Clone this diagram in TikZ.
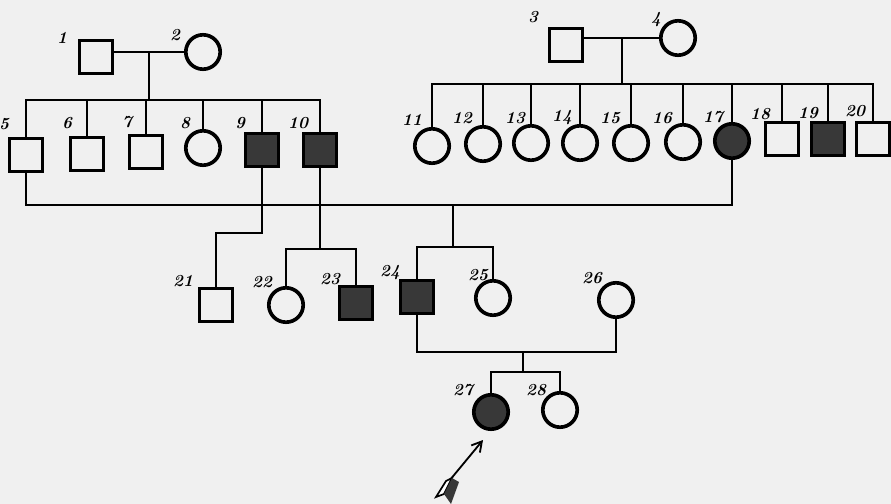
\documentclass[tikz,border=0pt]{standalone}
\usepackage{tikz}
\usetikzlibrary{arrows.meta,calc}
\tikzset{>=latex}
\tikzset{
  male/.style={draw, line width=2.6pt, minimum size=0.82cm, inner sep=0pt},
  female/.style={draw, circle, line width=2.6pt, minimum size=0.86cm, inner sep=0pt},
  ill/.style={fill=black!78},
  num/.style={font=\large\bfseries\itshape, inner sep=0pt},
  link/.style={line width=1.9pt}
}

\begin{document}
\begin{tikzpicture}[x=0.025cm, y=-0.025cm]
		\fill[black!6] (0,0) rectangle (891,504);
		\useasboundingbox (0,0) rectangle (891,504);
		
		% generation I
		\node[male] (p1) at (96,57) {};
		\node[female] (p2) at (203,52) {};
		\node[male] (p3) at (566,45) {};
		\node[female] (p4) at (678,38) {};
		
		% generation II
		\foreach \i/\x/\y in {5/26/155, 6/87/154, 7/146/152, 18/782/139, 20/873/139}
		{
			\node[male] (p\i) at (\x,\y) {};
		}
		\foreach \i/\x/\y in {8/203/148, 11/432/146, 12/483/144, 13/531/143, 14/580/143, 15/631/143, 16/683/142}
		{
			\node[female] (p\i) at (\x,\y) {};
		}
		\node[male,ill] (p9) at (262,150) {};
		\node[male,ill] (p10) at (320,150) {};
		\node[male,ill] (p19) at (828,139) {};
		\node[female,ill] (p17) at (732,141) {};
		
		% generation III and IV
		\node[male] (p21) at (216,305) {};
		\node[female] (p22) at (286,305) {};
		\node[male,ill] (p23) at (356,303) {};
		\node[male,ill] (p24) at (417,297) {};
		\node[female] (p25) at (493,298) {};
		\node[female] (p26) at (616,300) {};
		\node[female,ill] (p27) at (491,412) {};
		\node[female] (p28) at (560,410) {};
		
		% numbers
		\foreach \t/\x/\y in {1/62/38, 2/175/35, 3/533/17, 4/656/20, 5/4/124, 6/67/123, 7/127/122,
			8/185/123, 9/240/123, 10/298/123, 11/412/120, 12/462/118, 13/515/118, 14/562/118,
			15/610/118, 16/662/118, 17/713/117, 18/760/114, 19/808/113, 20/855/111,
			21/183/281, 22/262/282, 23/330/279, 24/390/273, 25/478/275, 26/592/278,
			27/463/390, 28/536/390}
		{
			\node[num] (n\t) at (\x,\y) {\t};
		}
		
		\coordinate (m12) at (149,52);
		\coordinate (s1) at (149,100);
		\coordinate (m34) at (622,38);
		\coordinate (s2) at (622,84);
		\coordinate (m517) at (453,205);
		\coordinate (s517) at (453,247);
		\coordinate (k9) at (236,233);
		\coordinate (s10) at (320,249);
		\coordinate (m2426) at (523,352);
		\coordinate (s2426) at (523,372);
		
		% marriages and descent
		\draw[link] (p1.east |- p2) -- (p2.west);
		\draw[link] (m12) -- (s1);
		\draw[link] (p5.north) |- (p10.north |- s1) -- (p10.north);
		\foreach \c in {6,7,8,9}
		{
			\draw[link] (p\c.north) -- (p\c.north |- s1);
		}
		\draw[link] (p3.east |- p4) -- (p4.west);
		\draw[link] (m34) -- (s2);
		\draw[link] (p11.north) |- (p20.north |- s2) -- (p20.north);
		\foreach \c in {12,13,14,15,16,17,18,19}
		{
			\draw[link] (p\c.north) -- (p\c.north |- s2);
		}
		\draw[link] (p5.south) |- (p17.south |- m517) -- (p17.south);
		\draw[link] (m517) -- (s517);
		\draw[link] (p24.north) |- (s517) -| (p25.north);
		\draw[link] (p9.south) -- (p9.south |- k9) -| (p21.north);
		\draw[link] (p10.south) -- (s10);
		\draw[link] (p22.north) |- (s10) -| (p23.north);
		\draw[link] (p24.south) |- (m2426) -| (p26.south);
		\draw[link] (m2426) -- (s2426);
		\draw[link] (p27.north) |- (s2426) -| (p28.north);
		
		% proband
		\coordinate (a0) at (440,492);
		\coordinate (a1) at (483,440);
		\draw[line width=1.3pt, -{Straight Barb[length=7pt,width=8pt]}] (a0) -- (a1);
		\draw[line width=1.2pt, fill=white] (436,497) -- (446,481) -- (452,478) -- (444,494) -- cycle;
		\fill[black!78] (444,494) -- (452,478) -- (459,482) -- (451,504) -- cycle;
	\end{tikzpicture}
\end{document}
